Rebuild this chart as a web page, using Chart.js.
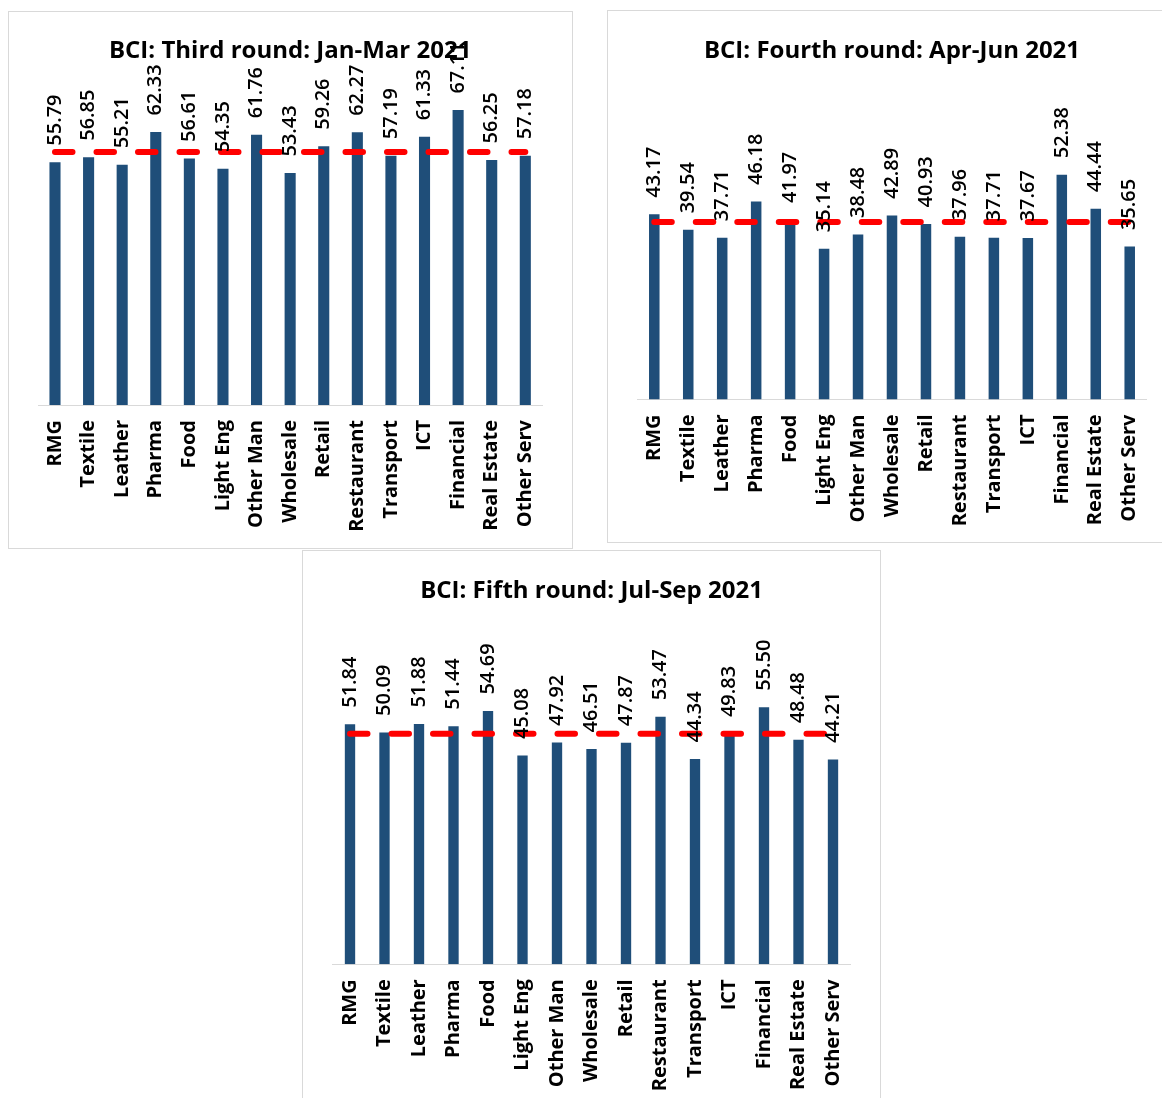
<!DOCTYPE html>
<html>
<head>
<meta charset="utf-8">
<title>BCI rounds 2021</title>
<script src="https://cdn.jsdelivr.net/npm/chart.js@4.4.0/dist/chart.umd.min.js"></script>
<style>
  html, body { margin: 0; padding: 0; background: #fff; }
  body { position: relative; width: 1162px; height: 1098px; overflow: hidden; }
  .panel { position: absolute; border: 1px solid #d9d9d9; background: #fff; }
  .panel canvas { display: block; }
</style>
</head>
<body>
<div class="panel" style="left:8px;top:11px;"><canvas id="thirdRoundChart" width="563" height="536"></canvas></div>
<div class="panel" style="left:607px;top:10px;"><canvas id="fourthRoundChart" width="570" height="531"></canvas></div>
<div class="panel" style="left:302px;top:550px;"><canvas id="fifthRoundChart" width="577" height="547"></canvas></div>

<script>
// Sectors and BCI values per survey round
const sectors = ["RMG", "Textile", "Leather", "Pharma", "Food", "Light Eng", "Other Man",
  "Wholesale", "Retail", "Restaurant", "Transport", "ICT", "Financial", "Real Estate", "Other Serv"];

const thirdRound = [55.79, 56.85, 55.21, 62.33, 56.61, 54.35, 61.76, 53.43, 59.26, 62.27, 57.19, 61.33, 67.11, 56.25, 57.18];
const fourthRound = [43.17, 39.54, 37.71, 46.18, 41.97, 35.14, 38.48, 42.89, 40.93, 37.96, 37.71, 37.67, 52.38, 44.44, 35.65];
const fifthRound = [51.84, 50.09, 51.88, 51.44, 54.69, 45.08, 47.92, 46.51, 47.87, 53.47, 44.34, 49.83, 55.50, 48.48, 44.21];

// overall index for each round (red dashed line)
const thirdRoundOverall = 58.0;
const fourthRoundOverall = 41.4;
const fifthRoundOverall = 49.8;

const barColor = "#1f4e79";
Chart.defaults.font.family = "'Open Sans', sans-serif";
Chart.defaults.color = "#000";

// draws the dashed overall line and the rotated value labels
const overallAndValues = {
  id: "overallAndValues",
  afterDatasetsDraw(chart, args, opts) {
    const { ctx, scales: { x, y } } = chart;
    const lineY = y.getPixelForValue(opts.overall);
    ctx.save();
    ctx.strokeStyle = "#ff0000";
    ctx.lineWidth = 6;
    ctx.lineCap = "round";
    ctx.setLineDash([17.5, 24]);
    ctx.beginPath();
    ctx.moveTo(x.getPixelForValue(0), lineY);
    ctx.lineTo(x.getPixelForValue(chart.data.labels.length - 1), lineY);
    ctx.stroke();
    ctx.restore();

    const values = chart.data.datasets[0].data;
    ctx.save();
    ctx.font = "600 20px 'Open Sans'";
    ctx.fillStyle = "#000";
    ctx.textAlign = "left";
    ctx.textBaseline = "middle";
    chart.getDatasetMeta(0).data.forEach((bar, i) => {
      ctx.save();
      ctx.translate(bar.x, bar.y - 16.5);
      ctx.rotate(-Math.PI / 2);
      ctx.fillText(values[i].toFixed(2), 0, 0);
      ctx.restore();
    });
    ctx.restore();
  }
};

function makeChart(id, title, values, overall, g) {
  const axisHeight = g.height - g.baseY;
  const areaTop = g.baseY - (g.yMax - g.yMin) * g.unitPx;
  return new Chart(document.getElementById(id), {
    type: "bar",
    data: {
      labels: sectors,
      datasets: [{
        data: values,
        backgroundColor: barColor,
        barPercentage: g.barPct,
        categoryPercentage: 1
      }]
    },
    options: {
      responsive: false,
      animation: false,
      devicePixelRatio: 1,
      layout: { padding: { left: g.padLeft, right: g.padRight, top: 0, bottom: 0 } },
      scales: {
        x: {
          grid: { display: false, drawTicks: false },
          border: { display: true, color: "#d9d9d9", width: 1 },
          ticks: {
            autoSkip: false,
            minRotation: 90,
            maxRotation: 90,
            padding: 15,
            color: "#000",
            font: { size: 20, weight: "bold" }
          },
          afterFit(scale) { scale.height = axisHeight; }
        },
        y: { display: false, min: g.yMin, max: g.yMax }
      },
      plugins: {
        legend: { display: false },
        tooltip: { enabled: false },
        title: {
          display: true,
          text: title,
          color: "#000",
          font: { size: 24, weight: "bold", lineHeight: 1.2 },
          padding: { top: g.titleY - 14.4, bottom: areaTop - g.titleY - 14.4 }
        },
        overallAndValues: { overall: overall }
      }
    },
    plugins: [overallAndValues]
  });
}

makeChart("thirdRoundChart", "BCI: Third round: Jan-Mar 2021", thirdRound, thirdRoundOverall,
  { height: 536, baseY: 393, unitPx: 4.6, yMin: 3, yMax: 70, titleY: 39.5, padLeft: 29.2, padRight: 29.9, barPct: 0.33 });

makeChart("fourthRoundChart", "BCI: Fourth round: Apr-Jun 2021", fourthRound, fourthRoundOverall,
  { height: 531, baseY: 388.5, unitPx: 4.29, yMin: 0, yMax: 60, titleY: 40.5, padLeft: 29.3, padRight: 31.3, barPct: 0.31 });

makeChart("fifthRoundChart", "BCI: Fifth round: Jul-Sep 2021", fifthRound, fifthRoundOverall,
  { height: 547, baseY: 413.3, unitPx: 4.63, yMin: 0, yMax: 60, titleY: 40, padLeft: 29.75, padRight: 29.75, barPct: 0.3 });
</script>
</body>
</html>
